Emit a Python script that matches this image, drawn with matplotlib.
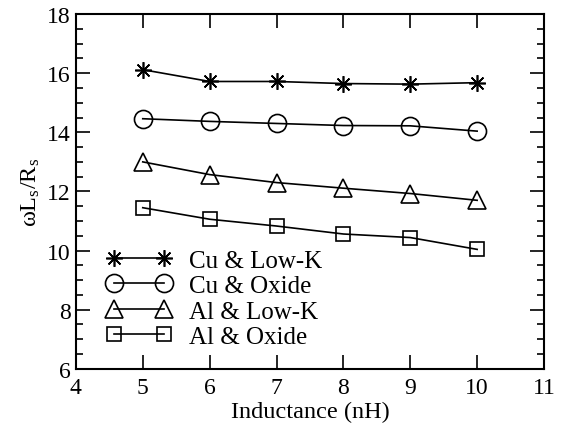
import matplotlib
matplotlib.use("Agg")
import matplotlib.pyplot as plt
from matplotlib.ticker import MultipleLocator

plt.rcParams["font.family"] = ["Liberation Serif", "DejaVu Serif"]
plt.rcParams["mathtext.fontset"] = "custom"
plt.rcParams["mathtext.rm"] = "Liberation Serif"
plt.rcParams["mathtext.it"] = "Liberation Serif:italic"

inductance = [5, 6, 7, 8, 9, 10]
cu_lowk = [16.12, 15.72, 15.72, 15.65, 15.63, 15.68]
cu_oxide = [14.46, 14.37, 14.30, 14.23, 14.22, 14.04]
al_lowk = [13.0, 12.57, 12.30, 12.11, 11.93, 11.70]
al_oxide = [11.45, 11.06, 10.83, 10.56, 10.44, 10.04]

series = [
    ("Cu & Low-K", cu_lowk, (8, 2, 0), 12),
    ("Cu & Oxide", cu_oxide, "o", 13),
    ("Al & Low-K", al_lowk, "^", 13),
    ("Al & Oxide", al_oxide, "s", 10),
]

fig = plt.figure(figsize=(5.62, 4.31), dpi=100)
ax = fig.add_axes([0.135, 0.142, 0.833, 0.823])

for label, vals, mk, ms in series:
    ax.plot(inductance, vals, color="black", linewidth=1.2, marker=mk,
            markersize=ms, markerfacecolor="none", markeredgecolor="black",
            markeredgewidth=1.2, label=label)

ax.set_xlim(4, 11)
ax.set_ylim(6, 18)
ax.xaxis.set_major_locator(MultipleLocator(1))
ax.yaxis.set_major_locator(MultipleLocator(2))
ax.yaxis.set_minor_locator(MultipleLocator(0.5))
ax.tick_params(which="both", direction="in", top=True, right=True,
               labelsize=17, width=1.2)
ax.tick_params(which="major", length=10)
ax.tick_params(which="minor", length=5)
ax.tick_params(axis="x", pad=6)
for sp in ax.spines.values():
    sp.set_linewidth(1.5)

ax.set_xlabel("Inductance (nH)", fontsize=17.5, labelpad=2)
ax.set_ylabel(r"ωL$_\mathrm{s}$/R$_\mathrm{s}$", fontsize=17.5, labelpad=4)

ax.legend(loc="lower left", frameon=False, fontsize=18, numpoints=2,
          handlelength=2.6, handletextpad=0.7, labelspacing=0.12,
          borderaxespad=0.2, bbox_to_anchor=(0.034, 0.016))

fig.savefig("out.png", dpi=100)
